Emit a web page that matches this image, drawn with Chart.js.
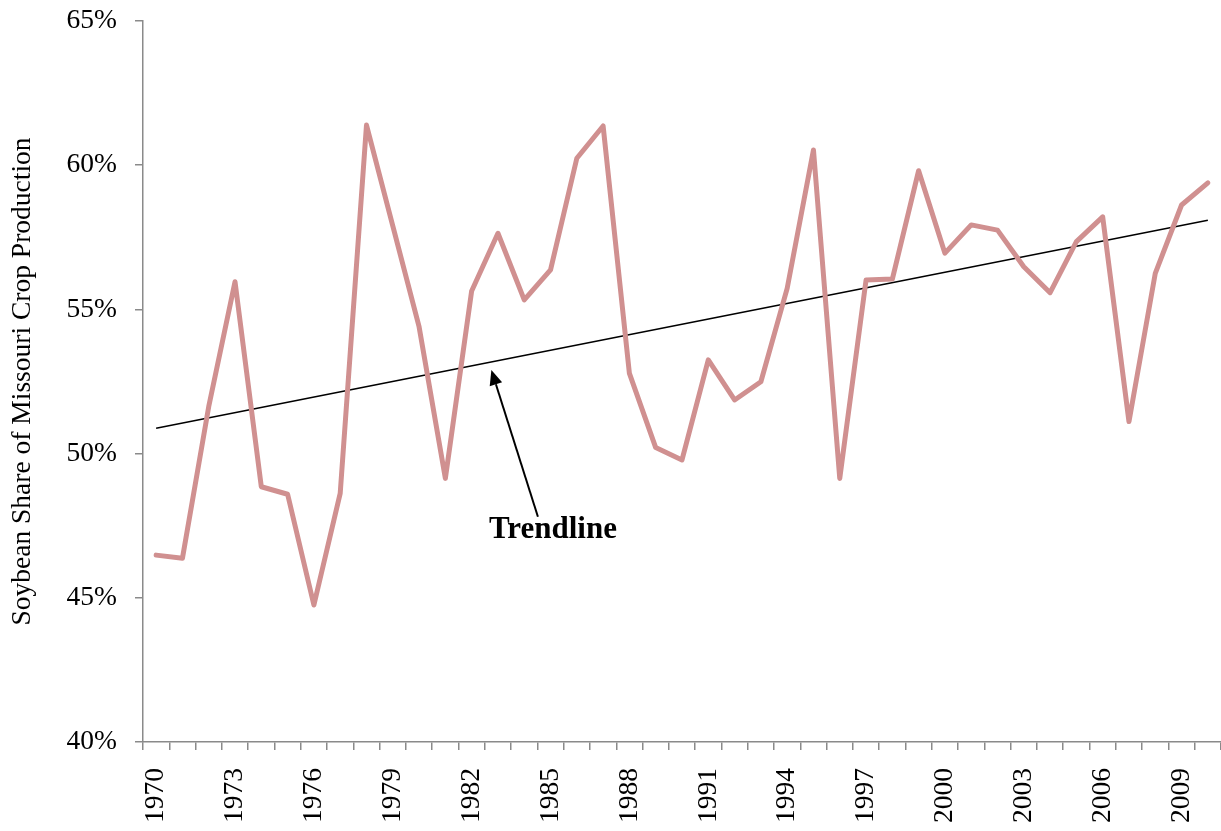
<!DOCTYPE html>
<html>
<head>
<meta charset="utf-8">
<script src="https://cdn.jsdelivr.net/npm/chart.js@4"></script>
<style>
    html, body { margin: 0; padding: 0; background: #fff; }
    #wrap { width: 1221px; height: 831px; }
</style>
</head>
<body>
<div id="wrap"><canvas id="soyChart"></canvas></div>
<script>
// 연도 / 대두 비중 (%)
const years = [];
for (let y = 1970; y <= 2010; y++) years.push(String(y));

const soyShare = [
    46.48, 46.37, 51.63, 55.96, 48.85, 48.59, 44.75, 48.62, 61.39, 57.90,
    54.40, 49.14, 55.64, 57.64, 55.33, 56.37, 60.24, 61.36, 52.78, 50.21,
    49.78, 53.25, 51.86, 52.49, 55.73, 60.53, 49.14, 56.02, 56.05, 59.81,
    56.95, 57.93, 57.75, 56.48, 55.58, 57.35, 58.21, 51.11, 56.25, 58.62,
    59.39
];

// 추세선 양 끝점
const trendStart = { x: '1970', y: 50.88 };
const trendEnd = { x: '2010', y: 58.09 };

const yTicks = [40, 45, 50, 55, 60, 65];
const labelEvery = 3;

// 주석: [카테고리 인덱스, 값]
const arrowTip = [12.75, 52.9];
const arrowTail = [14.52, 47.81];
const noteAt = [15.09, 47.06];
const noteText = 'Trendline';

const serif = "'Liberation Serif', 'Times New Roman', serif";
const axisGray = '#8a8a8a';

const annotate = {
    id: 'annotate',
    afterDatasetsDraw(chart) {
        const { ctx, scales: { x, y } } = chart;
        const tx = x.getPixelForValue(arrowTip[0]), ty = y.getPixelForValue(arrowTip[1]);
        const sx = x.getPixelForValue(arrowTail[0]), sy = y.getPixelForValue(arrowTail[1]);
        const ang = Math.atan2(ty - sy, tx - sx);
        const head = 15, half = 6.5;
        const bx = tx - head * Math.cos(ang), by = ty - head * Math.sin(ang);
        ctx.save();
        ctx.strokeStyle = '#000';
        ctx.fillStyle = '#000';
        ctx.lineWidth = 2;
        ctx.beginPath();
        ctx.moveTo(sx, sy);
        ctx.lineTo(bx, by);
        ctx.stroke();
        ctx.beginPath();
        ctx.moveTo(tx, ty);
        ctx.lineTo(bx + half * Math.sin(ang), by - half * Math.cos(ang));
        ctx.lineTo(bx - half * Math.sin(ang), by + half * Math.cos(ang));
        ctx.closePath();
        ctx.fill();
        ctx.font = "bold 31px " + serif;
        ctx.textAlign = 'center';
        ctx.textBaseline = 'alphabetic';
        ctx.fillText(noteText, x.getPixelForValue(noteAt[0]), y.getPixelForValue(noteAt[1]));
        ctx.restore();
    }
};

new Chart(document.getElementById('soyChart'), {
    type: 'line',
    data: {
        labels: years,
        datasets: [{
            label: 'Soybean share',
            data: soyShare,
            borderColor: '#D09090',
            borderWidth: 5,
            pointRadius: 0,
            borderJoinStyle: 'round',
            borderCapStyle: 'round',
            tension: 0
        }, {
            label: 'Trendline',
            data: [trendStart, trendEnd],
            borderColor: '#000',
            borderWidth: 1.5,
            pointRadius: 0,
            tension: 0
        }]
    },
    options: {
        responsive: true,
        maintainAspectRatio: false,
        animation: false,
        events: [],
        layout: { padding: { top: 21, right: 0, left: 0, bottom: 0 } },
        scales: {
            x: {
                offset: true,
                grid: { display: true, offset: true, drawOnChartArea: false, drawTicks: true, tickLength: 8, color: axisGray, lineWidth: 1.5 },
                border: { display: true, color: axisGray, width: 1.5 },
                ticks: {
                    autoSkip: false,
                    minRotation: 90,
                    maxRotation: 90,
                    padding: 18,
                    color: '#000',
                    font: { family: serif, size: 27.5 },
                    callback: function (v, i) { return i % labelEvery === 0 ? this.getLabelForValue(v) : ''; }
                },
                afterFit: s => { s.height = 89; s.paddingLeft = 0; s.paddingRight = 0; }
            },
            y: {
                min: yTicks[0],
                max: yTicks[yTicks.length - 1],
                afterBuildTicks: s => { s.ticks = yTicks.map(v => ({ value: v })); },
                grid: { display: true, drawOnChartArea: false, drawTicks: true, tickLength: 8, color: axisGray, lineWidth: 1.5 },
                border: { display: true, color: axisGray, width: 1.5 },
                ticks: {
                    padding: 18,
                    color: '#000',
                    font: { family: serif, size: 27.5 },
                    callback: v => v + '%'
                },
                title: {
                    display: true,
                    text: 'Soybean Share of Missouri Crop Production',
                    color: '#000',
                    font: { family: serif, size: 27.5, weight: 'normal' },
                    padding: { top: 6, bottom: 0 }
                },
                afterFit: s => { s.width = 143; s.paddingTop = 0; s.paddingBottom = 0; }
            }
        },
        plugins: {
            legend: { display: false },
            tooltip: { enabled: false }
        }
    },
    plugins: [annotate]
});
</script>
</body>
</html>
